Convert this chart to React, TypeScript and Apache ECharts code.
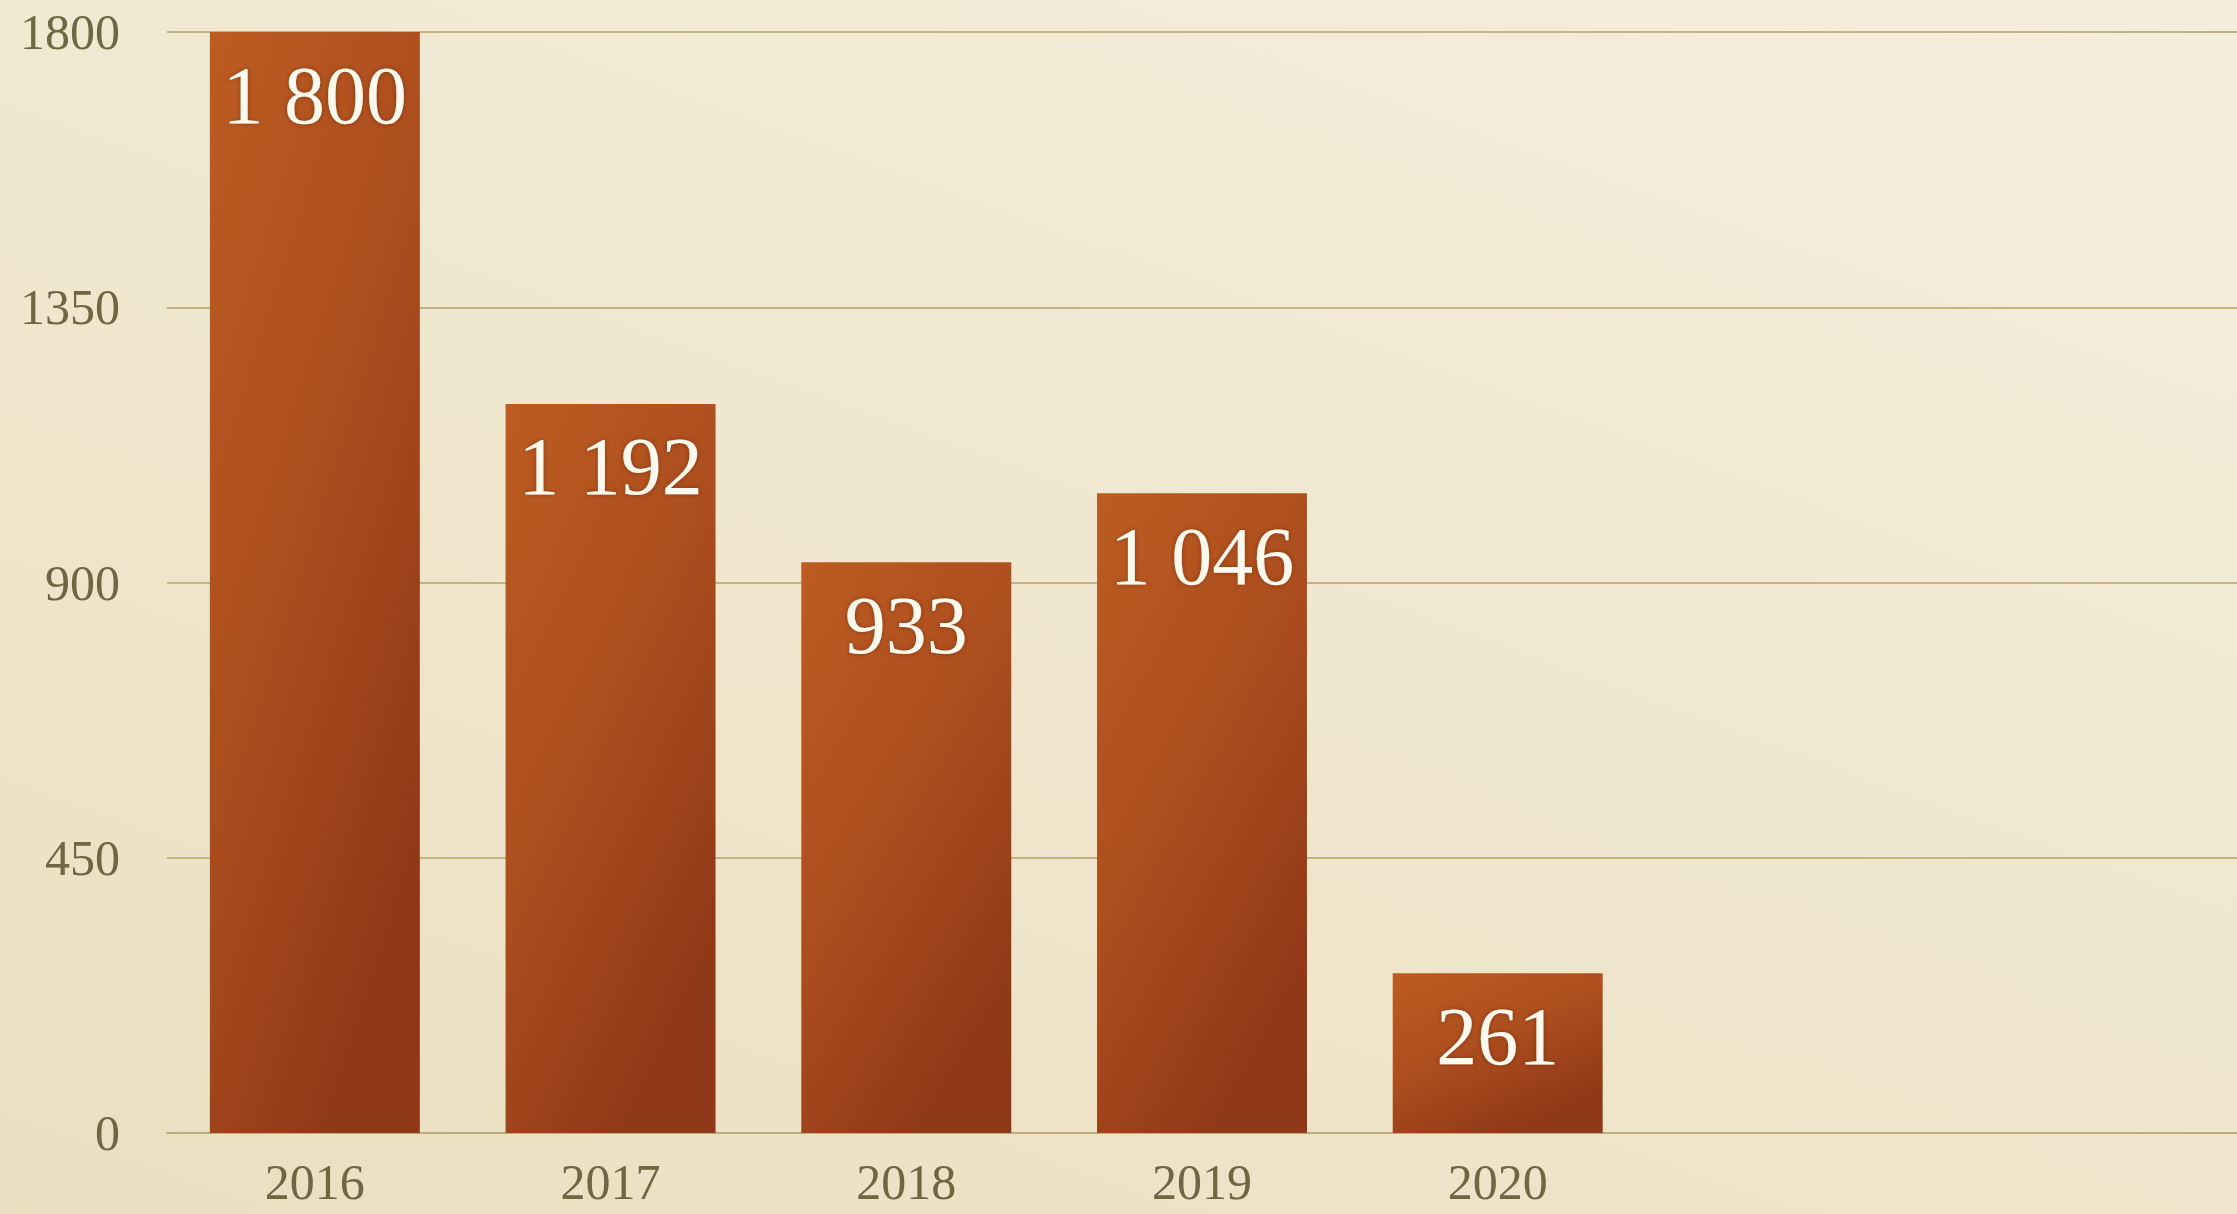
import React, { useEffect, useRef } from "react";
import * as echarts from "echarts";

const categories = ["2016", "2017", "2018", "2019", "2020", "", ""];
const values = [1800, 1192, 933, 1046, 261];
const yTicks = { min: 0, max: 1800, interval: 450 };

const fmt = (v: number) => String(v).replace(/\B(?=(\d{3})+(?!\d))/g, " ");

export default function App() {
  const ref = useRef<HTMLDivElement>(null);
  useEffect(() => {
    if (!ref.current) return;
    const chart = echarts.init(ref.current, null, { renderer: "svg" });
    const font = "'Liberation Serif', 'DejaVu Serif', serif";
    chart.setOption({
      animation: false,
      backgroundColor: "transparent",
      grid: { left: 167, right: 0, top: 32, bottom: 81, containLabel: false },
      xAxis: {
        type: "category",
        data: categories,
        axisLine: { show: true, lineStyle: { color: "#bfae7d", width: 2 } },
        axisTick: { show: false },
        axisLabel: { color: "#6f6642", fontFamily: font, fontSize: 50, margin: 22, lineHeight: 54 },
      },
      yAxis: {
        type: "value",
        min: yTicks.min,
        max: yTicks.max,
        interval: yTicks.interval,
        axisLine: { show: false },
        axisTick: { show: false },
        splitLine: { lineStyle: { color: "#c4b383", width: 2 } },
        axisLabel: {
          color: "#6f6642",
          fontFamily: font,
          fontSize: 50,
          margin: 47,
          formatter: (v: number) => String(v),
        },
      },
      series: [
        {
          type: "bar",
          data: values,
          barWidth: "71%",
          itemStyle: {
            color: new echarts.graphic.LinearGradient(0, 0, 0.6, 1, [
              { offset: 0, color: "#bc5c22" },
              { offset: 0.5, color: "#ad4e1e" },
              { offset: 1, color: "#8f3817" },
            ]),
          },
          label: {
            show: true,
            position: "insideTop",
            distance: 22,
            color: "#fdf9ee",
            fontFamily: font,
            fontSize: 82,
            formatter: (p: any) => fmt(p.value),
            textShadowColor: "rgba(80,30,5,0.5)",
            textShadowBlur: 4,
          },
        },
      ],
    });
    return () => chart.dispose();
  }, []);
  return (
    <div
      style={{
        position: "fixed",
        left: 0,
        top: 0,
        width: 2237,
        height: 1214,
        background: "linear-gradient(20deg, #ebdfc0 0%, #f0e7cf 50%, #f4eedc 100%)",
      }}
    >
      <div ref={ref} style={{ width: 2237, height: 1214 }} />
    </div>
  );
}
